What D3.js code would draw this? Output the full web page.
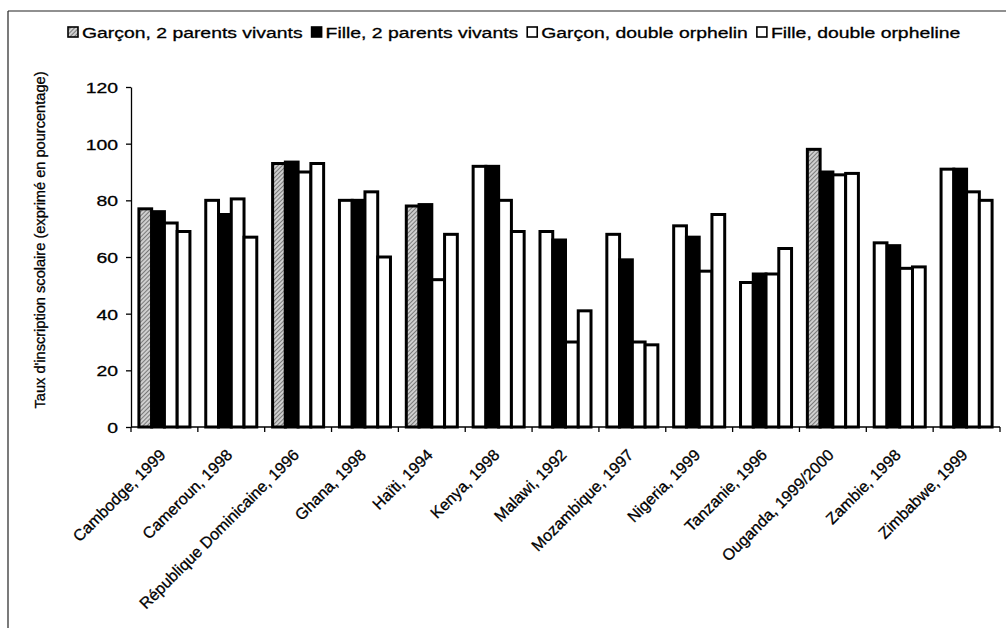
<!DOCTYPE html>
<html>
<head>
<meta charset="utf-8">
<script src="https://cdn.jsdelivr.net/npm/d3@7"></script>
<style>
  html, body { margin: 0; padding: 0; background: #fff; }
  svg { display: block; font-family: "Liberation Sans", Arial, sans-serif; }
  svg text { stroke: #000; stroke-width: 0.3px; }
</style>
</head>
<body>
<svg id="chart" width="1006" height="628"></svg>
<script>
// Pays et année de l'enquête
const categories = [
  "Cambodge, 1999", "Cameroun, 1998", "République Dominicaine, 1996", "Ghana, 1998",
  "Haïti, 1994", "Kenya, 1998", "Malawi, 1992", "Mozambique, 1997", "Nigeria, 1999",
  "Tanzanie, 1996", "Ouganda, 1999/2000", "Zambie, 1998", "Zimbabwe, 1999"
];
const seriesNames = [
  "Garçon, 2 parents vivants", "Fille, 2 parents vivants",
  "Garçon, double orphelin", "Fille, double orpheline"
];
// Taux d'inscription scolaire (%)
const garconParents = [77, 80, 93, 80, 78, 92, 69, 68, 71, 51, 98, 65, 91];
const filleParents  = [76, 75, 93.5, 80, 78.5, 92, 66, 59, 67, 54, 90, 64, 91];
const garconOrphelin = [72, 80.5, 90, 83, 52, 80, 30, 30, 55, 54, 89, 56, 83];
const filleOrpheline = [69, 67, 93, 60, 68, 69, 41, 29, 75, 63, 89.5, 56.5, 80];
const yTicks = [0, 20, 40, 60, 80, 100, 120];
// Pays où la première série garde sa trame grise
const shadedGroups = ["Cambodge, 1999", "République Dominicaine, 1996", "Haïti, 1994", "Ouganda, 1999/2000"];

const seriesValues = [garconParents, filleParents, garconOrphelin, filleOrpheline];

const svg = d3.select("#chart");
const defs = svg.append("defs");
const pat = defs.append("pattern")
  .attr("id", "hatch").attr("patternUnits", "userSpaceOnUse")
  .attr("width", 3).attr("height", 3)
  .attr("patternTransform", "rotate(45)");
pat.append("rect").attr("width", 3).attr("height", 3).attr("fill", "#cfcfcf");
pat.append("rect").attr("width", 1).attr("height", 3).attr("fill", "#7a7a7a");

const seriesFill = ["url(#hatch)", "#000", "#fff", "#fff"];
const wide = 1.25; // glyphs drawn slightly wide

// Cadre
svg.append("line").attr("x1", 8).attr("x2", 1006).attr("y1", 11).attr("y2", 11)
  .attr("stroke", "#222").attr("stroke-width", 1.2);
svg.append("line").attr("x1", 8).attr("x2", 8).attr("y1", 11).attr("y2", 628)
  .attr("stroke", "#222").attr("stroke-width", 1.2);

const plot = { left: 131, right: 1000, top: 87, bottom: 427 };

const x = d3.scaleBand().domain(categories).range([plot.left, plot.right]).paddingInner(0).paddingOuter(0);
const x1 = d3.scaleBand().domain(d3.range(seriesNames.length)).range([0, x.bandwidth()]).paddingInner(0).paddingOuter(0.62);
const y = d3.scaleLinear().domain([0, 120]).range([plot.bottom, plot.top]);

// Barres
const groups = svg.append("g").selectAll("g").data(categories).join("g")
  .attr("transform", d => `translate(${x(d)},0)`);
groups.selectAll("rect")
  .data((c, ci) => seriesValues.map((vals, si) => ({ c, si, v: vals[ci] })))
  .join("rect")
  .attr("x", d => x1(d.si))
  .attr("width", x1.bandwidth())
  .attr("y", d => y(d.v))
  .attr("height", d => y(0) - y(d.v))
  .attr("fill", d => (d.si === 0 && !shadedGroups.includes(d.c)) ? "#fff" : seriesFill[d.si])
  .attr("stroke", "#000")
  .attr("stroke-width", 3);

// Axe Y
const yAxis = svg.append("g").attr("transform", `translate(${plot.left},0)`)
  .call(d3.axisLeft(y).tickValues(yTicks).tickSize(5).tickSizeOuter(0).tickFormat(""));
yAxis.select(".domain").attr("stroke", "#000").attr("stroke-width", 1.3);
yAxis.selectAll(".tick line").attr("stroke", "#000").attr("stroke-width", 1.3);
yAxis.selectAll(".tick").append("text")
  .attr("transform", `translate(-13,0) scale(${wide},1)`)
  .attr("dy", "0.36em")
  .attr("text-anchor", "end")
  .attr("font-size", 15.5)
  .attr("fill", "#000")
  .text(d => d);

// Axe X : graduations entre les groupes
const xAxis = svg.append("g").attr("transform", `translate(0,${plot.bottom})`);
xAxis.append("line").attr("x1", plot.left).attr("x2", plot.right)
  .attr("stroke", "#000").attr("stroke-width", 1.3);
const bounds = categories.map(c => x(c)).concat([x(categories[categories.length - 1]) + x.bandwidth()]);
xAxis.selectAll("line.tk").data(bounds).join("line").attr("class", "tk")
  .attr("x1", d => d).attr("x2", d => d).attr("y1", 0).attr("y2", 5)
  .attr("stroke", "#000").attr("stroke-width", 1.3);
xAxis.selectAll("text").data(categories).join("text")
  .attr("transform", d => `translate(${x(d) + x.bandwidth() / 2 + 2},${29}) rotate(-45)`)
  .attr("text-anchor", "end")
  .attr("font-size", 16)
  .attr("fill", "#000")
  .text(d => d);

// Titre de l'axe Y
svg.append("text")
  .attr("transform", `translate(45,${240}) rotate(-90)`)
  .attr("text-anchor", "middle")
  .attr("font-size", 14.6)
  .attr("fill", "#000")
  .text("Taux d'inscription scolaire (exprimé en pourcentage)");

// Légende : une case puis le libellé, éléments à la suite
const legend = svg.append("g").attr("transform", "translate(0,38)");
let cursor = 68;
seriesNames.forEach((name, i) => {
  const g = legend.append("g").attr("transform", `translate(${cursor},0)`);
  g.append("rect").attr("x", 0).attr("y", -11).attr("width", 10).attr("height", 10)
    .attr("fill", seriesFill[i]).attr("stroke", "#000").attr("stroke-width", 1.6);
  const t = g.append("text")
    .attr("transform", `translate(14,0) scale(${wide},1)`)
    .attr("font-size", 15.5).attr("fill", "#000")
    .text(name);
  cursor += 14 + t.node().getComputedTextLength() * wide + 9;
});
</script>
</body>
</html>
